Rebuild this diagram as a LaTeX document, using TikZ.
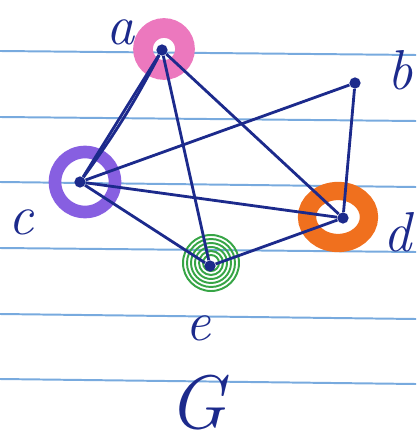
\documentclass[tikz,border=0pt]{standalone}
\definecolor{ink}{RGB}{28,42,140}
\definecolor{rule}{RGB}{120,170,222}
\definecolor{ringa}{RGB}{236,120,190}
\definecolor{ringc}{RGB}{135,95,225}
\definecolor{ringd}{RGB}{240,112,30}
\definecolor{ringe}{RGB}{55,165,70}
\begin{document}
\begin{tikzpicture}[x=0.025cm,y=-0.025cm,
  vertex/.style={circle,fill=ink,inner sep=0pt,minimum size=8pt},
  edge/.style={ink,line width=2pt},
  lbl/.style={ink,font=\fontsize{40}{40}\selectfont\itshape}]
\useasboundingbox (0,0) rectangle (416,445);
% paper lines
\foreach \y/\z in {51/55,117/121,182/187,248/252,314/319,379/384}
  \draw[rule,line width=1.4pt] (0,\y) -- (416,\z);
% coloured rings
\draw[ringa,line width=14pt] (164,49) circle (21);
\draw[ringc,line width=9pt] (85,182) circle (30);
\draw[ringd,line width=13pt] (338,217) ellipse (31 and 26);
\foreach \r in {8,12,16,20,24,28}
  \draw[ringe,line width=1.4pt] (211,263) circle (\r);
\node[vertex] (a) at (162,50) {};
\node[vertex] (b) at (355,83) {};
\node[vertex] (c) at (80,182) {};
\node[vertex] (d) at (343,218) {};
\node[vertex] (e) at (210,266) {};
\draw[edge] (a) -- (c);
\draw[edge] (a) to[bend left=4] (c);
\draw[edge] (a) -- (e);
\draw[edge] (a) -- (d);
\draw[edge] (c) -- (b);
\draw[edge] (c) -- (d);
\draw[edge] (c) -- (e);
\draw[edge] (e) -- (d);
\draw[edge] (b) -- (d);
% labels
\node[lbl] (la) at (121,32) {a};
\node[lbl] (lb) at (400,70) {b};
\node[lbl] (lc) at (21,222) {c};
\node[lbl] (ld) at (398,232) {d};
\node[lbl] (le) at (198,328) {e};
\node[lbl,font=\fontsize{54}{54}\selectfont\itshape] (lg) at (197,403) {G};
\end{tikzpicture}
\end{document}
